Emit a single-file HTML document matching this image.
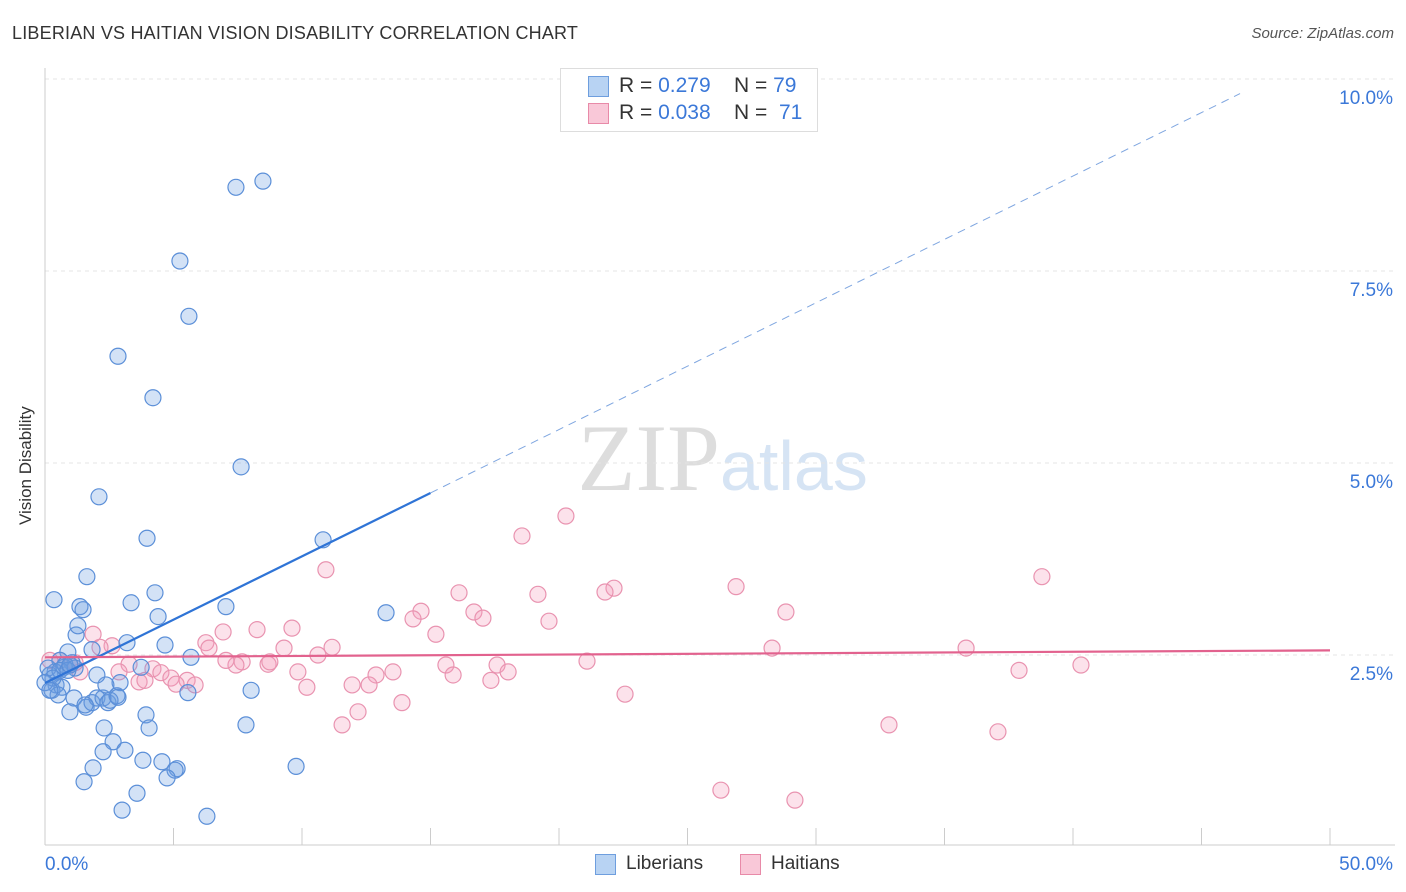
<!DOCTYPE html>
<html><head><meta charset="utf-8">
<style>
body{margin:0;background:#fff;font-family:"Liberation Sans",sans-serif;}
#wrap{position:relative;width:1406px;height:892px;overflow:hidden;}
.t{position:absolute;white-space:nowrap;}
</style></head>
<body>
<div id="wrap">
<div class="t" style="left:12px;top:23px;font-size:18px;color:#333;letter-spacing:0.2px">LIBERIAN VS HAITIAN VISION DISABILITY CORRELATION CHART</div>
<div class="t" style="right:12px;top:25px;font-size:15px;color:#555;font-style:italic">Source: ZipAtlas.com</div>
<svg id="chart" width="1406" height="892" style="position:absolute;left:0;top:0">
<text x="720" y="490" font-size="95" font-family="Liberation Serif" fill="#ddd" text-anchor="end">ZIP</text>
<text x="720" y="490" font-size="70" font-family="Liberation Sans" fill="#d6e4f4">atlas</text>
</svg>
<div class="t" style="left:16px;font-size:17px;color:#333;transform:rotate(-90deg);transform-origin:0 0;top:525px">Vision Disability</div>
<div style="position:absolute;left:560px;top:68px;width:256px;height:62px;border:1px solid #ddd;background:#fff">
 <div style="position:absolute;left:27px;top:7px;width:19px;height:19px;background:#b8d3f3;border:1px solid #6e9ede"></div>
 <div class="t" style="left:58px;top:5px;font-size:21px;color:#333">R = <span style="color:#3b78d8">0.279</span>&nbsp;&nbsp;&nbsp; N = <span style="color:#3b78d8">79</span></div>
 <div style="position:absolute;left:27px;top:34px;width:19px;height:19px;background:#f9c8d8;border:1px solid #e88aa8"></div>
 <div class="t" style="left:58px;top:32px;font-size:21px;color:#333">R = <span style="color:#3b78d8">0.038</span>&nbsp;&nbsp;&nbsp; N = &nbsp;<span style="color:#3b78d8">71</span></div>
</div>
<div style="position:absolute;left:595px;top:854px;width:19px;height:19px;background:#b8d3f3;border:1px solid #6e9ede"></div>
<div class="t" style="left:626px;top:853px;font-size:19px;color:#333">Liberians</div>
<div style="position:absolute;left:740px;top:854px;width:19px;height:19px;background:#f9c8d8;border:1px solid #e88aa8"></div>
<div class="t" style="left:771px;top:853px;font-size:19px;color:#333">Haitians</div>
</div>
<script>
const xTicks=[0,5,10,15,20,25,30,35,40,45,50];
const yTicks=[2.5,5,7.5,10];
const yTickLabels=["2.5%","5.0%","7.5%","10.0%"];
const xEndLabels=["0.0%","50.0%"];
const libX=[7.43,8.48,5.25,5.60,2.84,4.20,7.63,2.10,3.97,10.82,1.63,0.35,1.36,1.48,3.35,4.28,4.40,7.04,13.27,1.21,1.28,1.83,3.19,4.67,5.68,0.89,0.58,1.05,0.74,0.39,0.19,0.43,0.27,0.66,0.51,1.13,0.97,1.60,1.83,2.02,2.26,2.45,2.80,2.92,2.37,2.02,3.74,8.02,5.56,3.93,4.05,2.30,7.82,2.65,3.11,2.26,3.81,4.55,5.14,5.06,1.87,9.77,4.75,1.52,3.58,3.00,6.30,0.78,1.17,0.12,0.58,0.89,0.31,1.56,2.53,2.84,0.97,0.00,0.19];
const libY=[8.59,8.67,7.63,6.91,6.39,5.85,4.95,4.56,4.02,4.00,3.52,3.22,3.13,3.09,3.18,3.31,3.00,3.13,3.05,2.76,2.88,2.57,2.66,2.63,2.47,2.54,2.43,2.40,2.34,2.28,2.24,2.11,2.04,2.08,1.98,1.94,1.76,1.82,1.88,1.94,1.94,1.88,1.97,2.14,2.11,2.24,2.34,2.04,2.01,1.72,1.55,1.55,1.59,1.37,1.26,1.24,1.13,1.11,1.02,1.00,1.03,1.05,0.90,0.85,0.70,0.48,0.40,2.37,2.33,2.33,2.30,2.30,2.20,1.85,1.91,1.95,2.37,2.14,2.04];
const haiX=[20.27,18.56,10.93,38.79,26.89,22.14,21.79,16.11,19.18,16.69,14.63,17.04,28.83,14.32,19.61,9.61,8.25,15.21,1.87,6.93,11.17,6.26,6.38,2.61,2.14,9.30,35.84,28.29,10.62,21.09,8.68,15.60,17.59,3.27,4.20,7.67,8.75,7.43,9.84,13.54,12.88,15.88,18.02,40.31,37.90,4.51,4.90,5.53,5.84,5.10,3.66,3.89,11.95,12.61,10.19,17.35,2.88,1.36,0.58,0.19,0.97,22.57,13.89,12.18,11.56,32.84,37.08,26.30,29.18,1.17,7.04];
const haiY=[4.31,4.05,3.61,3.52,3.39,3.37,3.32,3.31,3.29,3.06,3.07,2.98,3.06,2.97,2.94,2.85,2.83,2.77,2.77,2.80,2.60,2.66,2.59,2.62,2.60,2.59,2.59,2.59,2.50,2.42,2.38,2.37,2.37,2.38,2.32,2.41,2.41,2.37,2.28,2.28,2.24,2.24,2.28,2.37,2.30,2.27,2.20,2.17,2.11,2.12,2.15,2.17,2.11,2.11,2.08,2.17,2.28,2.28,2.43,2.43,2.37,1.99,1.88,1.76,1.59,1.59,1.50,0.74,0.61,2.40,2.43];
const libTrend=[[0,2.135],[15,4.61],[46.5,9.81]];
const haiTrend=[[0,2.47],[50,2.56]];

const NS="http://www.w3.org/2000/svg";
const svg=document.getElementById('chart');
const X=v=>45+v*(1330-45)/50;
const Y=v=>847-v*76.8;
function mk(tag,attrs){const e=document.createElementNS(NS,tag);for(const k in attrs)e.setAttribute(k,attrs[k]);svg.appendChild(e);return e;}
yTicks.forEach((t,i)=>{
 const g=mk('line',{x1:45,x2:1395,y1:Y(t),y2:Y(t),stroke:'#e4e4e4','stroke-dasharray':'4,4'});
 
 
 const tx=mk('text',{x:1393,y:Y(t)+25,'font-size':19,fill:'#3b78d8','text-anchor':'end','font-family':'Liberation Sans'});
 tx.textContent=yTickLabels[i];
 
 
});
const ya=mk('line',{x1:45,x2:45,y1:68,y2:845,stroke:'#ccc'});


const xa=mk('line',{x1:45,x2:1395,y1:845,y2:845,stroke:'#ccc'});


xTicks.forEach(t=>{
 const l=mk('line',{x1:X(t),x2:X(t),y1:828,y2:845,stroke:'#ccc'});
 
 
});
[[0,'start',45],[50,'end',1393]].forEach((a,i)=>{
 const tx=mk('text',{x:a[2],y:870,'font-size':19,fill:'#3b78d8','text-anchor':a[1],'font-family':'Liberation Sans'});
 tx.textContent=xEndLabels[i];
 
 
});
function pts(xs,ys,fill,stroke,name){
 xs.forEach((x,i)=>{
  const c=mk('circle',{cx:X(x),cy:Y(ys[i]),r:8,fill:fill,stroke:stroke,'stroke-width':1.2});
  
  
 });
}
pts(haiX,haiY,'rgba(244,160,188,0.3)','#e993b0','haitian-point');
pts(libX,libY,'rgba(110,160,225,0.3)','#5b8fd8','liberian-point');
const l1=mk('line',{x1:X(libTrend[0][0]),y1:Y(libTrend[0][1]),x2:X(libTrend[1][0]),y2:Y(libTrend[1][1]),stroke:'#2f74d6','stroke-width':2.2});


const l2=mk('line',{x1:X(libTrend[1][0]),y1:Y(libTrend[1][1]),x2:X(libTrend[2][0]),y2:Y(libTrend[2][1]),stroke:'#7fa6e0','stroke-width':1,'stroke-dasharray':'8,6'});


const l3=mk('line',{x1:X(haiTrend[0][0]),y1:Y(haiTrend[0][1]),x2:X(haiTrend[1][0]),y2:Y(haiTrend[1][1]),stroke:'#e2628e','stroke-width':2.2});


</script>
</body></html>
